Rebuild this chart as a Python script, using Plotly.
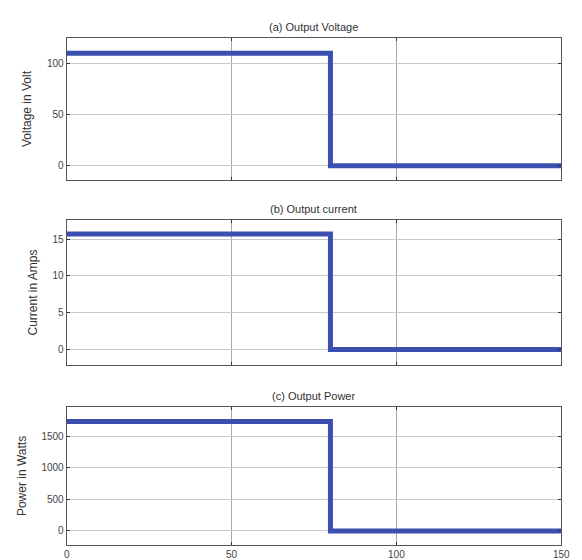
import plotly.graph_objects as go

time_s = [0, 80, 150]
voltage = [110, 0, 0]
current = [15.7, 0, 0]
power = [1730, 0, 0]

titles = ["(a) Output Voltage", "(b) Output current", "(c) Output Power"]
ylabels = ["Voltage in Volt", "Current in Amps", "Power in Watts"]
series = [voltage, current, power]
yranges = [[-14, 125], [-2.1, 17.6], [-222, 1960]]
ytickvals = [[0, 50, 100], [0, 5, 10, 15], [0, 500, 1000, 1500]]
xtickvals = [0, 50, 100, 150]

W, H = 582, 560
ydom_px = [(38, 180), (220, 365), (407, 545)]
xdom = [65 / W, 570 / W]

fig = go.Figure()
font = dict(family="Liberation Sans, Arial", size=10, color="#444")
for i, (ys, yr, tv) in enumerate(zip(series, yranges, ytickvals)):
    n = i + 1
    xa = "x" if n == 1 else f"x{n}"
    ya = "y" if n == 1 else f"y{n}"
    fig.add_trace(go.Scatter(x=time_s, y=ys, mode="lines", line_shape="hv",
                             line=dict(color="#3a4fb0", width=5),
                             xaxis=xa, yaxis=ya, showlegend=False))
    top, bot = ydom_px[i]
    fig.layout[f"yaxis{'' if n == 1 else n}"] = dict(
        domain=[1 - bot / H, 1 - top / H], range=yr, tickvals=tv,
        anchor=xa, showgrid=True, gridcolor="#c8c8c8", gridwidth=1,
        zeroline=False, showline=True, linecolor="#555", linewidth=1, mirror="ticks",
        ticks="inside", ticklen=3, tickcolor="#333", tickfont=font,
        title=dict(text=ylabels[i], font=dict(family="Liberation Sans, Arial", size=12, color="#333"), standoff=12))
    fig.layout[f"xaxis{'' if n == 1 else n}"] = dict(
        domain=xdom, range=[0, 150], tickvals=xtickvals,
        anchor=ya, showgrid=True, gridcolor="#a8a8a8", gridwidth=1,
        zeroline=False, showline=True, linecolor="#555", linewidth=1, mirror="ticks",
        ticks="inside", ticklen=3, tickcolor="#333", tickfont=font,
        showticklabels=(n == 3))
    fig.add_annotation(text=titles[i], x=(xdom[0] + xdom[1]) / 2, y=1 - (top - 3) / H,
                       xref="paper", yref="paper", xanchor="center", yanchor="bottom",
                       showarrow=False, font=dict(family="Liberation Sans, Arial", size=11, color="#333"))

fig.update_layout(width=W, height=H, margin=dict(l=0, r=0, t=0, b=0),
                  plot_bgcolor="white", paper_bgcolor="white")
fig.write_html("out.html")
